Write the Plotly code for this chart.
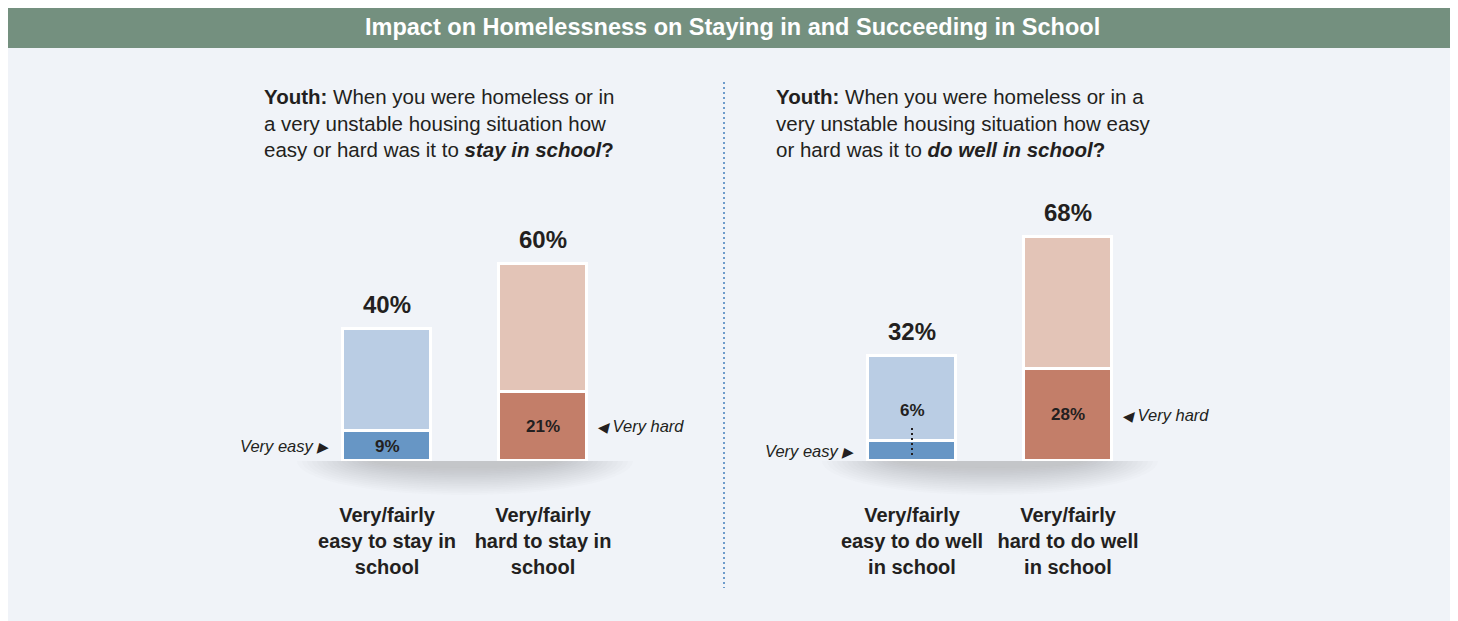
import plotly.graph_objects as go

W, H = 1458, 621

title = "Impact on Homelessness on Staying in and Succeeding in School"

# Panel 1: staying in school
stay_question = ("<b>Youth:</b> When you were homeless or in<br>"
                 "a very unstable housing situation how<br>"
                 "easy or hard was it to <b><i>stay in school</i>?</b>")
stay_labels = ["Very/fairly<br>easy to stay in<br>school",
               "Very/fairly<br>hard to stay in<br>school"]
stay_total = [40, 60]
stay_very = [9, 21]

# Panel 2: doing well in school
well_question = ("<b>Youth:</b> When you were homeless or in a<br>"
                 "very unstable housing situation how easy<br>"
                 "or hard was it to <b><i>do well in school</i>?</b>")
well_labels = ["Very/fairly<br>easy to do well<br>in school",
               "Very/fairly<br>hard to do well<br>in school"]
well_total = [32, 68]
well_very = [6, 28]

very_names = ["Very easy", "Very hard"]

light_colors = ["#BACDE4", "#E3C4B7"]
dark_colors = ["#6796C5", "#C37E69"]
panel_bg = "#F0F3F8"
ink = "#231F20"
FONT = "Liberation Sans, Arial, sans-serif"
TRI = '<span style="font-size:14px">{}</span>'

OFF = 8  # page body margin


def px(x):
    return (x - OFF) / W


def py(y):
    return 1 - (y - OFF) / H


BASE = 461          # baseline (px from top)
SCALE = 3.29        # px per percent

fig = go.Figure()

panels = [
    dict(xa="x", labels=stay_labels, total=stay_total, very=stay_very,
         q=stay_question, qx=262, center=465),
    dict(xa="x2", labels=well_labels, total=well_total, very=well_very,
         q=well_question, qx=774, center=990),
]

shapes = [
    # panel background and title band
    dict(type="rect", xref="paper", yref="paper", x0=0, x1=1, y0=0, y1=1,
         fillcolor=panel_bg, line_width=0, layer="below"),
    dict(type="rect", xref="paper", yref="paper", x0=0, x1=1, y0=py(48), y1=1,
         fillcolor="#74907F", line_width=0, layer="below"),
]
annotations = [
    dict(text=title, x=px(732), y=py(27), xref="paper", yref="paper",
         xanchor="center", yanchor="middle", showarrow=False,
         font=dict(family=FONT, size=23.5, color="white", weight="bold")),
]

for p in panels:
    xa = p["xa"]
    light = [t - v for t, v in zip(p["total"], p["very"])]
    cats = list(range(len(p["total"])))

    fig.add_trace(go.Bar(
        x=cats, y=p["very"], xaxis=xa, yaxis="y", width=0.57,
        marker=dict(color=dark_colors, line=dict(color="white", width=3)),
        hoverinfo="skip", showlegend=False,
    ))
    fig.add_trace(go.Bar(
        x=cats, y=light, xaxis=xa, yaxis="y", width=0.57,
        marker=dict(color=light_colors, line=dict(color="white", width=3)),
        hoverinfo="skip", showlegend=False,
    ))

    # soft shadow under the bars (stacked translucent ellipses, top half hidden)
    n = 16
    for i in range(n):
        hw = 168 - i * 5
        hh = 34 - i * 1.8
        shapes.append(dict(type="circle", xref="paper", yref="paper",
                           x0=px(p["center"] - hw), x1=px(p["center"] + hw),
                           y0=py(BASE + hh), y1=py(BASE - hh),
                           fillcolor="#5a606c", opacity=0.019, line_width=0,
                           layer="below"))
    shapes.append(dict(type="rect", xref="paper", yref="paper",
                       x0=px(p["center"] - 180), x1=px(p["center"] + 180),
                       y0=py(BASE), y1=py(BASE - 45),
                       fillcolor=panel_bg, line_width=0, layer="below"))

    # question text
    annotations.append(dict(
        text=p["q"], x=px(p["qx"]), y=py(83), xref="paper", yref="paper",
        xanchor="left", yanchor="top", align="left", showarrow=False,
        font=dict(family=FONT, size=20.5, color=ink)))

    for i, (t, v) in enumerate(zip(p["total"], p["very"])):
        # total on top
        annotations.append(dict(
            text=f"{t}%", x=i, y=t, xref=xa, yref="y", yanchor="bottom",
            yshift=9, showarrow=False,
            font=dict(family=FONT, size=24, color=ink, weight="bold")))
        # "very" share
        if v >= 8:
            annotations.append(dict(
                text=f"{v}%", x=i, y=v / 2, xref=xa, yref="y", showarrow=False,
                font=dict(family=FONT, size=17, color=ink, weight="bold")))
        else:
            annotations.append(dict(
                text=f"{v}%", x=i, y=v, xref=xa, yref="y", showarrow=False,
                yshift=31, font=dict(family=FONT, size=17, color=ink, weight="bold")))
            shapes.append(dict(type="line", xref=xa, yref="y", ysizemode="pixel",
                               yanchor=0, x0=i, x1=i, y0=6, y1=33,
                               line=dict(color=ink, width=2, dash="2px,3px")))
        # side label
        if i == 0:
            annotations.append(dict(
                text=f"{very_names[i]} " + TRI.format("▶"), x=i, y=v / 2,
                xref=xa, yref="y", xanchor="right", xshift=-56, showarrow=False,
                font=dict(family=FONT, size=16.5, color=ink, style="italic")))
        else:
            annotations.append(dict(
                text=TRI.format("◀") + f" {very_names[i]}", x=i, y=v / 2,
                xref=xa, yref="y", xanchor="left", xshift=52, showarrow=False,
                font=dict(family=FONT, size=16.5, color=ink, style="italic")))

# dotted divider
shapes.append(dict(type="line", xref="paper", yref="paper",
                   x0=px(724), x1=px(724), y0=py(82), y1=py(588),
                   line=dict(color="#6D9BCB", width=2, dash="2px,3px")))

axis_common = dict(range=[-0.5, 1.5], fixedrange=True, tickvals=[0, 1],
                   showgrid=False, zeroline=False, showline=False, ticks="",
                   tickangle=0, automargin=False, ticklabelstandoff=40,
                   tickfont=dict(family=FONT, size=20, color=ink, weight="bold"))

fig.update_layout(
    width=W, height=H,
    margin=dict(l=0, r=0, t=0, b=0, autoexpand=False),
    paper_bgcolor="white",
    plot_bgcolor="rgba(0,0,0,0)",
    barmode="stack",
    bargap=0,
    xaxis=dict(domain=[px(309), px(621)], anchor="y", ticktext=stay_labels, **axis_common),
    xaxis2=dict(domain=[px(834), px(1146)], anchor="y", ticktext=well_labels, **axis_common),
    yaxis=dict(domain=[py(BASE), py(BASE - 100 * SCALE)], range=[0, 100],
               visible=False, fixedrange=True, automargin=False),
    shapes=shapes,
    annotations=annotations,
)

fig.write_html("out.html")
